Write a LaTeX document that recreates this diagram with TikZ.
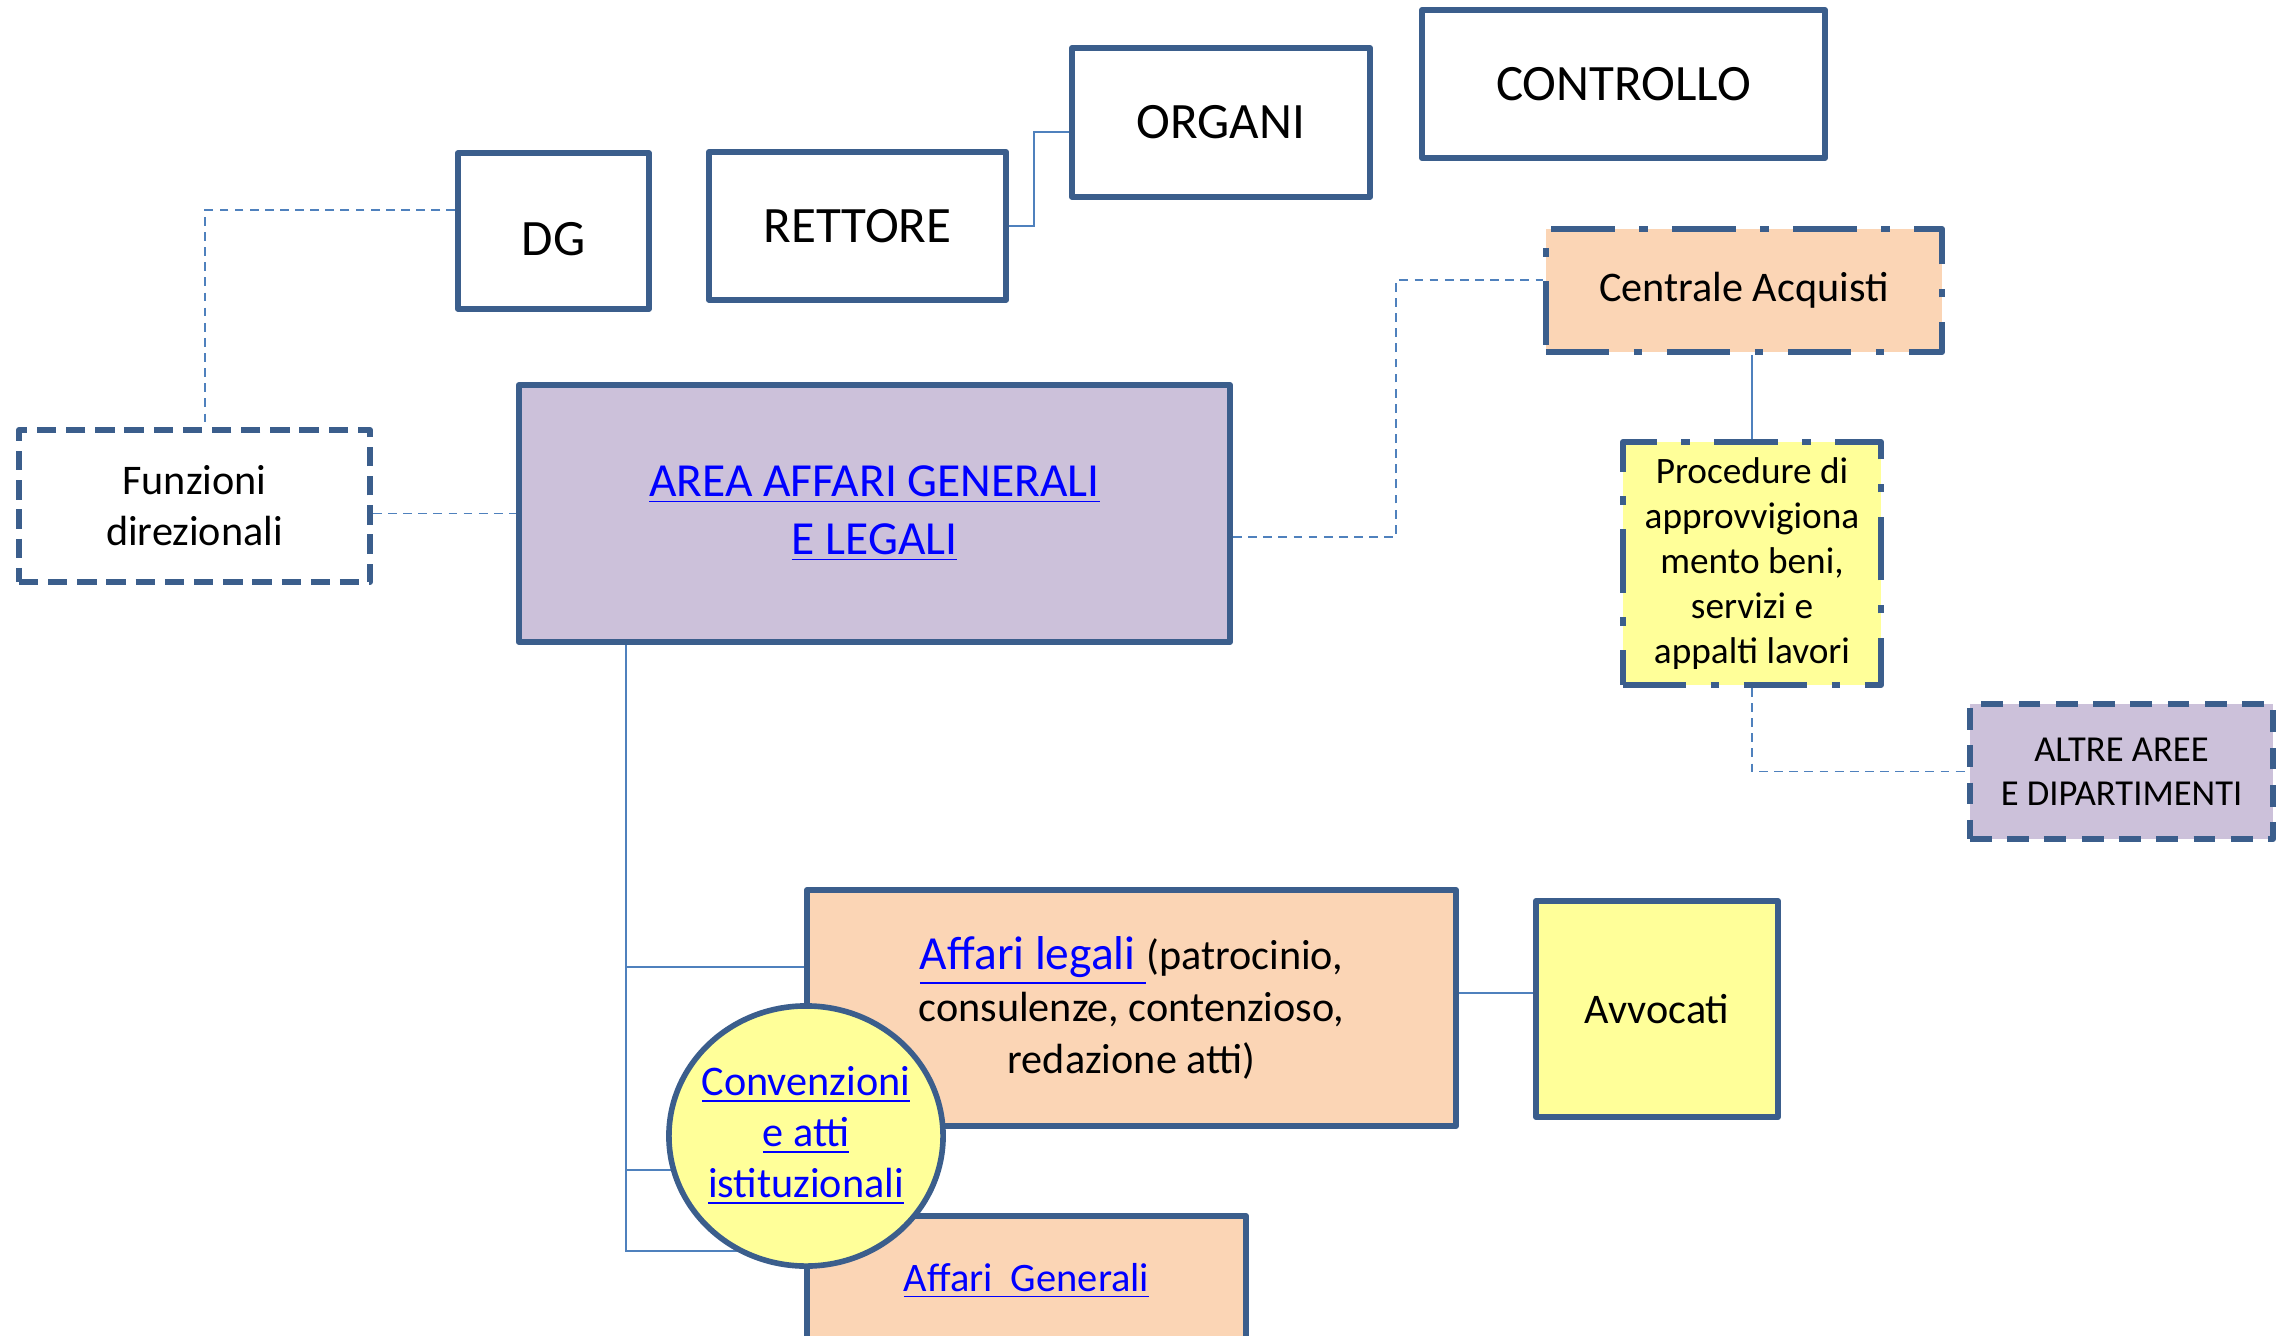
\documentclass[tikz,border=0pt]{standalone}
\usepackage{fontspec}
\setmainfont{Carlito}
\usetikzlibrary{backgrounds,shapes.geometric}

\definecolor{boxline}{HTML}{3B5E8C}
\definecolor{linkline}{HTML}{4F81BD}
\definecolor{areafill}{HTML}{CCC1DA}
\definecolor{peachfill}{HTML}{FBD5B5}
\definecolor{yellowfill}{HTML}{FFFF99}
\newcommand{\ulink}[1]{{\color{blue}\underline{#1}}}

\tikzset{
  unit/.style={draw=boxline, line width=1.6pt, line join=round, inner sep=0pt, align=center},
  dashunit/.style={unit, dash pattern=on 5.5pt off 2.8pt},
  dotunit/.style={unit, dash pattern=on 18pt off 7pt on 2.4pt off 7pt},
  link/.style={draw=linkline, line width=0.5pt},
  dashlink/.style={link, dash pattern=on 2.5pt off 1.8pt},
}

\begin{document}
\begin{tikzpicture}[x=0.01cm,y=-0.01cm]
    \useasboundingbox (0,0) rectangle (2287,1336);
    % vertice
    \node[unit, minimum width=1.91cm, minimum height=1.56cm, text height=14pt, font=\fontsize{14.5}{17}\selectfont] (dg) at (553.5,231) {DG};
    \node[unit, minimum width=2.97cm, minimum height=1.48cm, font=\fontsize{14.5}{17}\selectfont] (rett) at (857.5,226) {RETTORE};
    \node[unit, minimum width=2.98cm, minimum height=1.49cm, font=\fontsize{14.5}{17}\selectfont] (org) at (1221,122.5) {ORGANI};
    \node[unit, minimum width=4.03cm, minimum height=1.48cm, font=\fontsize{14.5}{17}\selectfont] (contr) at (1623.5,84) {CONTROLLO};
    % area e funzioni
    \node[dashunit, minimum width=3.51cm, minimum height=1.52cm, font=\fontsize{12}{14.5}\selectfont] (funz) at (194.5,506) {Funzioni\\direzionali};
    \node[unit, fill=areafill, minimum width=7.11cm, minimum height=2.57cm, font=\fontsize{13.5}{16.5}\selectfont] (area) at (874.5,513.5) {\ulink{AREA AFFARI GENERALI}\\\ulink{E LEGALI}};
    \node[dotunit, fill=peachfill, minimum width=3.96cm, minimum height=1.23cm, font=\fontsize{12}{14}\selectfont] (cen) at (1744,290.5) {Centrale Acquisti};
    \node[dotunit, fill=yellowfill, minimum width=2.58cm, minimum height=2.43cm, font=\fontsize{10.6}{12.8}\selectfont] (proc) at (1752,563.5) {Procedure di\\approvvigiona\\mento beni,\\servizi e\\appalti lavori};
    \node[unit, fill=areafill, dash pattern=on 6.2pt off 4.4pt, minimum width=3.03cm, minimum height=1.35cm, font=\fontsize{10.4}{12.4}\selectfont] (altre) at (2121.5,771.5) {ALTRE AREE\\E DIPARTIMENTI};
    % uffici
    \node[unit, fill=peachfill, minimum width=6.49cm, minimum height=2.36cm, font=\fontsize{12}{14.7}\selectfont] (legali) at (1131.5,1008) {\ulink{\fontsize{13.5}{14.7}\selectfont Affari legali\ }(patrocinio,\\consulenze, contenzioso,\\redazione atti)};
    \node[unit, fill=yellowfill, minimum width=2.42cm, minimum height=2.16cm, font=\fontsize{12}{14.5}\selectfont] (avv) at (1657,1009) {Avvocati};
    \node[unit, fill=peachfill, minimum width=4.39cm, minimum height=1.30cm, font=\fontsize{11.5}{14}\selectfont] (gen) at (1026.5,1281) {\ulink{Affari\ \ Generali}};
    \node[unit, ellipse, inner xsep=-3pt, fill=yellowfill, minimum width=2.74cm, minimum height=2.60cm, font=\fontsize{12}{14.5}\selectfont] (conv) at (806,1136) {\ulink{Convenzioni}\\\ulink{e atti}\\\ulink{istituzionali}};

    \coordinate (dgbend) at (205,210);
    \coordinate (rojog) at (1034,132);
    \coordinate (acbend) at (1396,280);
    \coordinate (aclow) at (1396,537);
    \coordinate (trunk) at (626,1251);
    \coordinate (legbr) at (626,967);
    \coordinate (lav) at (1490,993);

    \begin{pgfonlayer}{background}
        \draw[dashlink] (dg.west |- dgbend) -| (funz.north -| dgbend);
        \draw[dashlink] (funz.east |- area.west) -- (area.west);
        \draw[link] (rett.east) -| (rojog) -- (org.west |- rojog);
        \draw[dashlink] (area.east |- aclow) -- (aclow) -- (acbend) -- (cen.west |- acbend);
        \draw[link] (proc.north |- cen.south) -- (proc.north);
        \draw[dashlink] (proc.south) |- (altre.west);
        \draw[link] (area.south -| trunk) -- (trunk) -- (gen.west |- trunk);
        \draw[link] (legbr) -- (legali.west |- legbr);
        \draw[link] (trunk |- conv.194) -- (conv.194);
        \draw[link] (legali.east |- lav) -- (avv.west |- lav);
    \end{pgfonlayer}
\end{tikzpicture}
\end{document}
